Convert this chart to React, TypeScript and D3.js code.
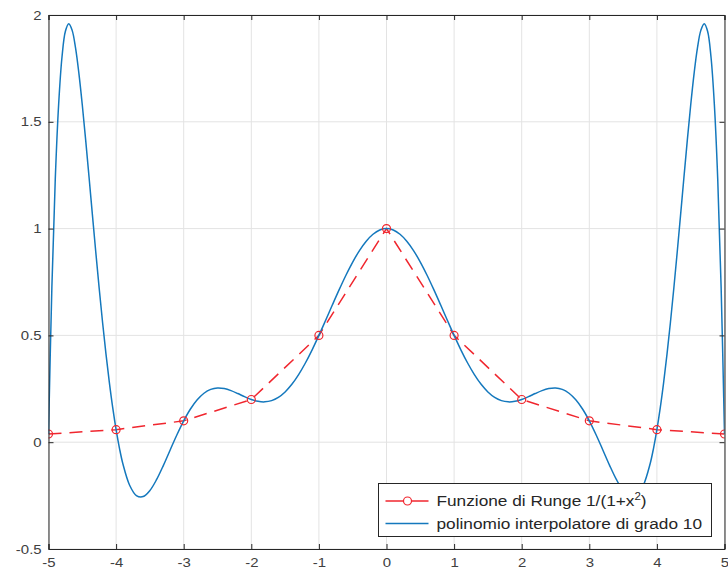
import React, { useEffect, useRef } from 'react';
import * as d3 from 'd3';

// interpolation nodes and the Runge function values there
const nodeX = [-5, -4, -3, -2, -1, 0, 1, 2, 3, 4, 5];
const rungeY = [0.0385, 0.0588, 0.1, 0.2, 0.5, 1, 0.5, 0.2, 0.1, 0.0588, 0.0385];

// degree 10 interpolating polynomial
const polyX = [
  -5, -4.95, -4.9, -4.85, -4.8, -4.75, -4.7, -4.65, -4.6, -4.55, -4.5, -4.45, -4.4, -4.35, -4.3, -4.25,
  -4.2, -4.15, -4.1, -4.05, -4, -3.95, -3.9, -3.8, -3.7, -3.6, -3.5, -3.4, -3.3, -3.2, -3.1, -3,
  -2.9, -2.8, -2.7, -2.6, -2.5, -2.4, -2.3, -2.2, -2.1, -2, -1.9, -1.8, -1.7, -1.6, -1.5, -1.4,
  -1.3, -1.2, -1.1, -1, -0.9, -0.8, -0.7, -0.6, -0.5, -0.4, -0.3, -0.2, -0.1, 0,
  0.1, 0.2, 0.3, 0.4, 0.5, 0.6, 0.7, 0.8, 0.9, 1, 1.1, 1.2, 1.3, 1.4, 1.5, 1.6, 1.7, 1.8, 1.9, 2,
  2.1, 2.2, 2.3, 2.4, 2.5, 2.6, 2.7, 2.8, 2.9, 3, 3.1, 3.2, 3.3, 3.4, 3.5, 3.6, 3.7, 3.8, 3.9, 3.95,
  4, 4.05, 4.1, 4.15, 4.2, 4.25, 4.3, 4.35, 4.4, 4.45, 4.5, 4.55, 4.6, 4.65, 4.7, 4.75, 4.8, 4.85,
  4.9, 4.95, 5,
];
const polyY = [
  0.0385, 0.7261, 1.2303, 1.581, 1.8044, 1.9237, 1.959, 1.928, 1.8458, 1.7257, 1.5787, 1.4143, 1.2402, 1.0631, 0.8881, 0.7195,
  0.5604, 0.4135, 0.2802, 0.1618, 0.0588, -0.0286, -0.1007, -0.2013, -0.2496, -0.2546, -0.2262, -0.1743, -0.1083, -0.0363, 0.0349, 0.1,
  0.1554, 0.1987, 0.2292, 0.2472, 0.2538, 0.251, 0.2415, 0.2278, 0.2131, 0.2, 0.1912, 0.1888, 0.1946, 0.2099, 0.2354, 0.271,
  0.3165, 0.3708, 0.4326, 0.5, 0.571, 0.6432, 0.7142, 0.7818, 0.8434, 0.8971, 0.9409, 0.9734, 0.9933, 1,
  0.9933, 0.9734, 0.9409, 0.8971, 0.8434, 0.7818, 0.7142, 0.6432, 0.571, 0.5, 0.4326, 0.3708, 0.3165, 0.271, 0.2354, 0.2099, 0.1946, 0.1888, 0.1912, 0.2,
  0.2131, 0.2278, 0.2415, 0.251, 0.2538, 0.2472, 0.2292, 0.1987, 0.1554, 0.1, 0.0349, -0.0363, -0.1083, -0.1743, -0.2262, -0.2546, -0.2496, -0.2013, -0.1007, -0.0286,
  0.0588, 0.1618, 0.2802, 0.4135, 0.5604, 0.7195, 0.8881, 1.0631, 1.2402, 1.4143, 1.5787, 1.7257, 1.8458, 1.928, 1.959, 1.9237, 1.8044, 1.581,
  1.2303, 0.7261, 0.0385,
];

const xTicks = [-5, -4, -3, -2, -1, 0, 1, 2, 3, 4, 5];
const yTicks = [-0.5, 0, 0.5, 1, 1.5, 2];
const legendLabels = ['Funzione di Runge 1/(1+x', 'polinomio interpolatore di grado 10'];

const RED = '#f0262e';
const BLUE = '#1478bd';
const AXIS = '#262626';
const STRETCH = 1.15;

const RungeChart = () => {
  const chartRef = useRef<SVGSVGElement>(null);

  useEffect(() => {
    drawChart();
  }, []);

  const drawChart = () => {
    const W = 728;
    const H = 576;
    const left = 48.5, right = 724.5, top = 15, bottom = 549;

    const svg = d3.select(chartRef.current).attr('width', W).attr('height', H);
    svg.selectAll('*').remove();

    const x = d3.scaleLinear().domain([-5, 5]).range([left, right]);
    const y = d3.scaleLinear().domain([-0.5, 2]).range([bottom, top]);

    svg.append('rect').attr('width', W).attr('height', H).attr('fill', '#fff');

    svg.append('defs').append('clipPath').attr('id', 'plot-clip')
      .append('rect')
      .attr('x', left).attr('y', top)
      .attr('width', right - left).attr('height', bottom - top);

    // grid
    const grid = svg.append('g').attr('stroke', '#e3e3e3').attr('stroke-width', 1);
    grid.selectAll('.vg').data(xTicks).enter().append('line')
      .attr('x1', d => x(d)).attr('x2', d => x(d))
      .attr('y1', top).attr('y2', bottom);
    grid.selectAll('.hg').data(yTicks).enter().append('line')
      .attr('x1', left).attr('x2', right)
      .attr('y1', d => y(d)).attr('y2', d => y(d));

    const plot = svg.append('g').attr('clip-path', 'url(#plot-clip)');

    // polynomial
    const poly = polyX.map((v, i) => [v, polyY[i]] as [number, number]);
    const polyLine = d3.line<[number, number]>()
      .x(d => x(d[0])).y(d => y(d[1]))
      .curve(d3.curveCatmullRom.alpha(0.5));

    // Runge samples
    const runge = nodeX.map((v, i) => [v, rungeY[i]] as [number, number]);
    const rungeLine = d3.line<[number, number]>().x(d => x(d[0])).y(d => y(d[1]));

    plot.append('path').datum(runge)
      .attr('d', rungeLine)
      .attr('fill', 'none').attr('stroke', RED)
      .attr('stroke-width', 1.5).attr('stroke-dasharray', '13,8');

    plot.append('path').datum(poly)
      .attr('d', polyLine)
      .attr('fill', 'none').attr('stroke', BLUE).attr('stroke-width', 1.5);

    plot.selectAll('.mk').data(runge).enter().append('circle')
      .attr('cx', d => x(d[0])).attr('cy', d => y(d[1])).attr('r', 4)
      .attr('fill', 'none').attr('stroke', RED).attr('stroke-width', 1.2);

    // axes box and ticks
    const font = 'Liberation Sans, Arial, Helvetica, sans-serif';
    const bottomAxis = svg.append('g').attr('transform', `translate(0,${bottom})`)
      .call(d3.axisBottom(x).tickValues(xTicks).tickSize(-5).tickPadding(9).tickFormat(d => String(d)));
    const leftAxis = svg.append('g').attr('transform', `translate(${left},0)`)
      .call(d3.axisLeft(y).tickValues(yTicks).tickSize(-5).tickPadding(6).tickFormat(d => String(d)));
    svg.append('g').attr('transform', `translate(0,${top})`)
      .call(d3.axisTop(x).tickValues(xTicks).tickSize(-5).tickFormat(() => ''));
    svg.append('g').attr('transform', `translate(${right},0)`)
      .call(d3.axisRight(y).tickValues(yTicks).tickSize(-5).tickFormat(() => ''));

    svg.selectAll('.domain').attr('stroke', AXIS);
    svg.selectAll('.tick line').attr('stroke', AXIS);
    [bottomAxis, leftAxis].forEach(a => {
      a.selectAll('text')
        .attr('fill', '#404040')
        .style('font-family', font)
        .style('font-size', '13px')
        .attr('transform', `scale(${STRETCH},1)`);
    });

    // legend
    const lx = 378.5, ly = 483.5, lw = 333, lh = 53;
    const legend = svg.append('g');
    legend.append('rect')
      .attr('x', lx).attr('y', ly).attr('width', lw).attr('height', lh)
      .attr('fill', '#fff').attr('stroke', AXIS).attr('stroke-width', 1);

    const rows = [ly + 17.5, ly + 40];
    legend.append('line')
      .attr('x1', lx + 7).attr('x2', lx + 50).attr('y1', rows[0]).attr('y2', rows[0])
      .attr('stroke', RED).attr('stroke-width', 1.5);
    legend.append('circle')
      .attr('cx', lx + 29).attr('cy', rows[0]).attr('r', 4)
      .attr('fill', '#fff').attr('stroke', RED).attr('stroke-width', 1.2);
    legend.append('line')
      .attr('x1', lx + 7).attr('x2', lx + 50).attr('y1', rows[1]).attr('y2', rows[1])
      .attr('stroke', BLUE).attr('stroke-width', 1.5);

    legendLabels.forEach((label, i) => {
      const t = legend.append('text')
        .attr('transform', `translate(${lx + 58},${rows[i] + 5}) scale(${STRETCH},1)`)
        .attr('fill', '#262626')
        .style('font-family', font)
        .style('font-size', '15px')
        .text(label);
      if (i === 0) {
        t.append('tspan').attr('dy', -6).style('font-size', '10px').text('2');
        t.append('tspan').attr('dy', 6).text(')');
      }
    });
  };

  return (
    <svg ref={chartRef} style={{ position: 'absolute', left: 0, top: 0, display: 'block' }}></svg>
  );
};

export default function App() {
  return <RungeChart />;
}
